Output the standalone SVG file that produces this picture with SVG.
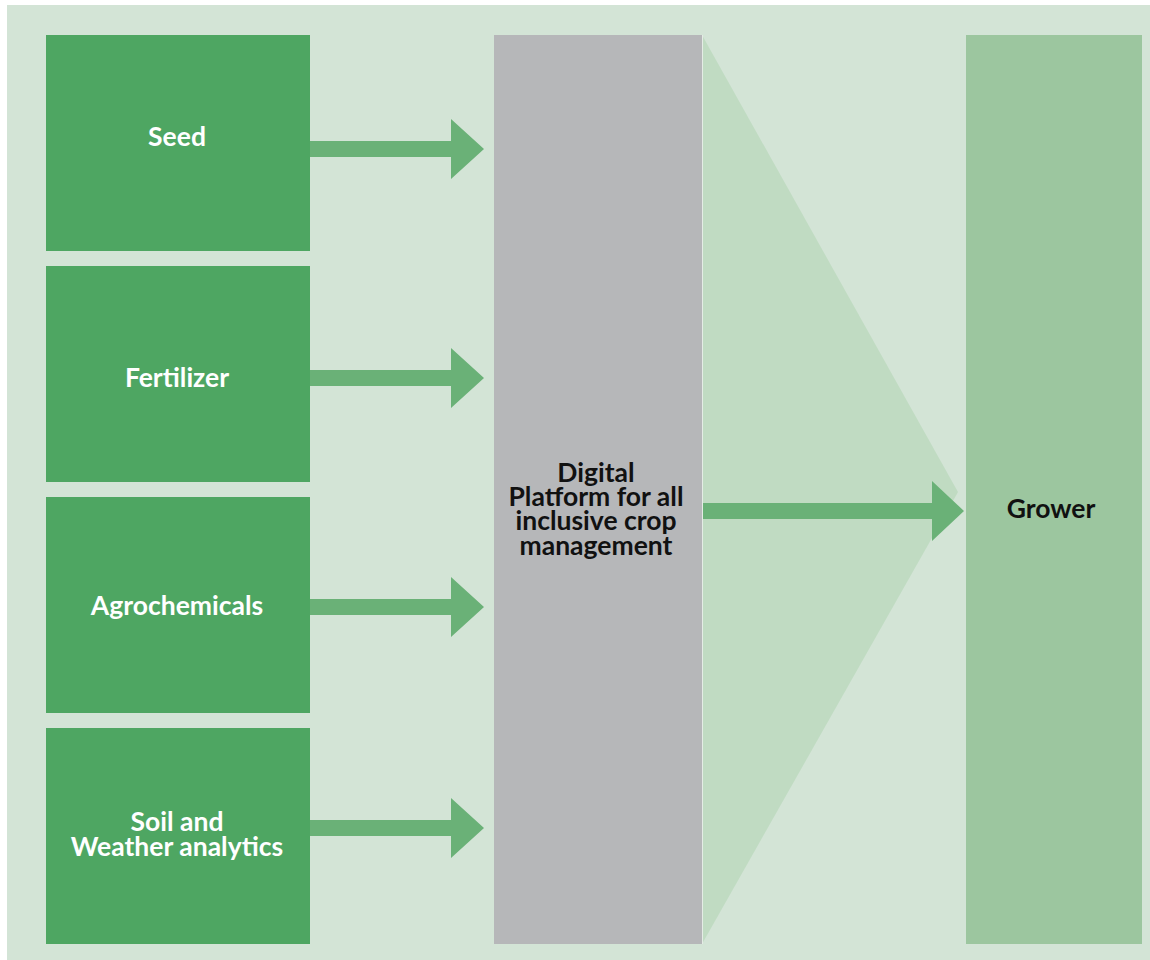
<svg xmlns="http://www.w3.org/2000/svg" width="1150" height="960" viewBox="0 0 1150 960">
<defs>
<style>
.src{fill:#4ea662}
.lbl{font-family:Lato,"Liberation Sans",sans-serif;font-weight:bold;font-size:26.5px;text-anchor:middle}
.w{fill:#ffffff}
.d{fill:#111111}
.arr{fill:#6ab177}
</style>
</defs>
<rect x="0" y="0" width="1150" height="960" fill="#ffffff"/>
<rect x="7" y="5" width="1143" height="955" fill="#d3e4d6"/>
<polygon points="702,35 958,492 702,944" fill="#c0dbc2"/>
<g id="seed"><rect class="src" x="46" y="35" width="264" height="216"/><text class="lbl w" x="177" y="146">Seed</text></g>
<g id="fertilizer"><rect class="src" x="46" y="266" width="264" height="216"/><text class="lbl w" x="177" y="387">Fertilizer</text></g>
<g id="agrochemicals"><rect class="src" x="46" y="497" width="264" height="216"/><text class="lbl w" x="177" y="615">Agrochemicals</text></g>
<g id="soil"><rect class="src" x="46" y="728" width="264" height="216"/><text class="lbl w" x="177" y="831">Soil and</text><text class="lbl w" x="177" y="856">Weather analytics</text></g>
<g id="platform"><rect x="494" y="35" width="208" height="909" fill="#b6b7b9"/><line x1="702.5" y1="35" x2="702.5" y2="944" stroke="#e4ece5" stroke-width="1"/>
<text class="lbl d" x="596" y="482">Digital</text><text class="lbl d" x="596" y="506">Platform for all</text><text class="lbl d" x="596" y="530">inclusive crop</text><text class="lbl d" x="596" y="555">management</text></g>
<g id="grower"><rect x="966" y="35" width="176" height="909" fill="#9cc69f"/><text class="lbl d" x="1051" y="518">Grower</text></g>
<g id="connectors">
<polygon class="arr" points="310,141 451,141 451,119 484,149 451,179 451,157 310,157"/>
<polygon class="arr" points="310,370 451,370 451,348 484,378 451,408 451,386 310,386"/>
<polygon class="arr" points="310,599 451,599 451,577 484,607 451,637 451,615 310,615"/>
<polygon class="arr" points="310,820 451,820 451,798 484,828 451,858 451,836 310,836"/>
<polygon class="arr" points="703,503 932,503 932,481 964,511 932,541 932,519 703,519"/>
</g>
</svg>
